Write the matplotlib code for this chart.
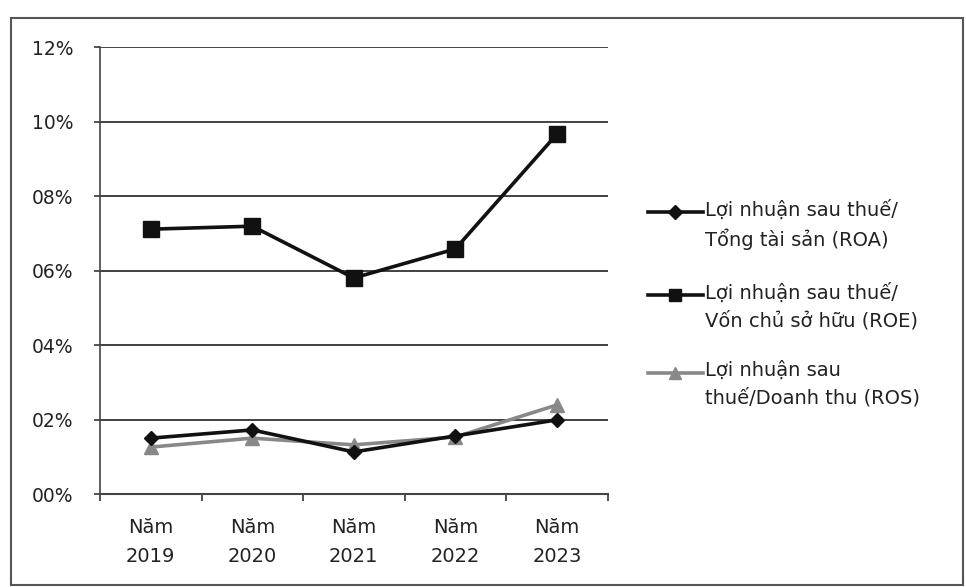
import matplotlib.pyplot as plt
from matplotlib.patches import Rectangle
from matplotlib.lines import Line2D

plt.rcParams['font.family'] = ['DejaVu Sans']

years = ['Năm\n2019', 'Năm\n2020', 'Năm\n2021', 'Năm\n2022', 'Năm\n2023']
roa = [1.50, 1.72, 1.13, 1.56, 1.99]
roe = [7.11, 7.19, 5.80, 6.58, 9.66]
ros = [1.26, 1.50, 1.32, 1.53, 2.39]
y_ticks = [0, 2, 4, 6, 8, 10, 12]
y_labels = ['00%', '02%', '04%', '06%', '08%', '10%', '12%']
labels = ['Lợi nhuận sau thuế/\nTổng tài sản (ROA)',
          'Lợi nhuận sau thuế/\nVốn chủ sở hữu (ROE)',
          'Lợi nhuận sau\nthuế/Doanh thu (ROS)']

fig = plt.figure(figsize=(9.66, 5.87), dpi=100)
ax = fig.add_axes([0.1035, 0.1584, 0.5255, 0.7615])

x = list(range(len(years)))
ax.plot(x, roe, color='#111111', lw=2.6, marker='s', ms=11, zorder=3)
ax.plot(x, ros, color='#888888', lw=2.6, marker='^', ms=10, zorder=4)
ax.plot(x, roa, color='#111111', lw=2.6, marker='D', ms=7, zorder=5)

ax.set_xlim(-0.5, len(years) - 0.5)
ax.set_ylim(0, 12)
ax.set_yticks(y_ticks)
ax.set_yticklabels(y_labels, fontsize=13.5, color='#222222')
ax.set_xticks(x)
ax.set_xticklabels(years, fontsize=14, color='#222222', linespacing=1.7)
ax.tick_params(axis='x', which='major', length=0, pad=17)
ax.set_xticks([i - 0.5 for i in range(len(years) + 1)], minor=True)
ax.tick_params(axis='x', which='minor', length=5, width=1.2, color='#333333')
ax.tick_params(axis='y', length=4, width=1.2, color='#333333', pad=15)

ax.grid(axis='y', color='#222222', lw=1.2)
ax.set_axisbelow(True)
for s in ['top', 'right']:
    ax.spines[s].set_visible(False)
ax.spines['left'].set_color('#444444')
ax.spines['bottom'].set_color('#444444')
ax.spines['left'].set_linewidth(1.2)
ax.spines['bottom'].set_linewidth(1.5)

# legend drawn by hand so the marker sits on the first text line
styles = [('#111111', 'D', 7), ('#111111', 's', 9), ('#888888', '^', 9)]
rows = [212, 295, 373]
W, H = 966, 587
for lab, (c, m, s), yc in zip(labels, styles, rows):
    fig.add_artist(Line2D([648 / W, 703 / W], [1 - yc / H] * 2, color=c, lw=2.6,
                          transform=fig.transFigure))
    fig.add_artist(Line2D([675 / W], [1 - yc / H], color=c, marker=m, ms=s,
                          transform=fig.transFigure))
    fig.text(705 / W, 1 - (yc - 12) / H, lab, fontsize=14, color='#222222',
             va='top', ha='left', linespacing=1.5)

fig.patches.append(Rectangle((0.011, 0.004), 0.986, 0.966, transform=fig.transFigure,
                             fill=False, edgecolor='#555555', lw=1.5))

fig.savefig('out.png', dpi=100)
